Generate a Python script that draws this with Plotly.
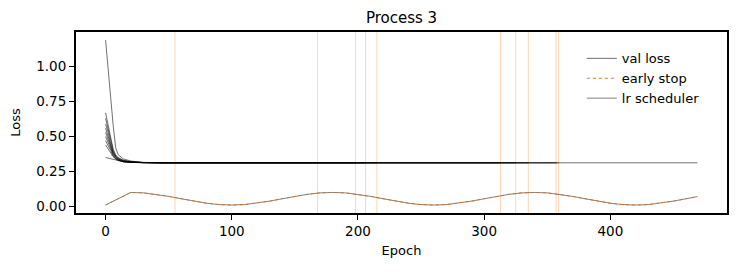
import plotly.graph_objects as go

# ---- data ----
run_epochs = [0, 2, 4, 6, 8, 10, 14, 20, 30, 45]
run_losses = [
    [1.19, 0.98, 0.78, 0.58, 0.42, 0.37, 0.34, 0.325, 0.315, 0.312],
    [0.67, 0.58, 0.48, 0.41, 0.37, 0.35, 0.33, 0.32, 0.314, 0.312],
    [0.63, 0.55, 0.47, 0.40, 0.36, 0.345, 0.33, 0.32, 0.314, 0.312],
    [0.59, 0.53, 0.45, 0.39, 0.36, 0.34, 0.325, 0.318, 0.313, 0.312],
    [0.56, 0.50, 0.43, 0.38, 0.355, 0.34, 0.325, 0.318, 0.313, 0.312],
    [0.53, 0.48, 0.42, 0.375, 0.35, 0.335, 0.322, 0.316, 0.313, 0.312],
    [0.50, 0.46, 0.41, 0.37, 0.345, 0.333, 0.32, 0.315, 0.313, 0.312],
    [0.47, 0.44, 0.40, 0.36, 0.34, 0.33, 0.32, 0.315, 0.313, 0.312],
    [0.44, 0.41, 0.38, 0.355, 0.34, 0.33, 0.32, 0.315, 0.313, 0.312],
    [0.35, 0.345, 0.34, 0.335, 0.33, 0.325, 0.32, 0.316, 0.313, 0.312],
]
run_end_epochs = [469, 359, 357, 335, 325, 313, 215, 206, 198, 168]
early_stops = [55, 168, 198, 206, 215, 313, 325, 335, 357, 359]

lr_epochs = [0, 10, 20, 30, 40, 50, 60, 70, 80, 90, 100, 110, 120, 130, 140, 150,
             160, 170, 180, 190, 200, 210, 220, 230, 240, 250, 260, 270, 280, 290,
             300, 310, 320, 330, 340, 350, 360, 370, 380, 390, 400, 410, 420, 430,
             440, 450, 460, 469]
lr_values = [0.010, 0.055, 0.100, 0.097, 0.087, 0.072, 0.055, 0.038, 0.023, 0.013,
             0.010, 0.013, 0.023, 0.038, 0.055, 0.072, 0.087, 0.097, 0.100, 0.097,
             0.087, 0.072, 0.055, 0.038, 0.023, 0.013, 0.010, 0.013, 0.023, 0.038,
             0.055, 0.072, 0.087, 0.097, 0.100, 0.097, 0.087, 0.072, 0.055, 0.038,
             0.023, 0.013, 0.010, 0.013, 0.023, 0.038, 0.055, 0.070]

x_ticks = [0, 100, 200, 300, 400]
y_ticks = [0.0, 0.25, 0.5, 0.75, 1.0]
y_tick_labels = ["0.00", "0.25", "0.50", "0.75", "1.00"]

fig = go.Figure()

for i, losses in enumerate(run_losses):
    xs = run_epochs + [run_end_epochs[i]]
    ys = losses + [losses[-1]]
    fig.add_trace(go.Scatter(
        x=xs, y=ys, mode="lines",
        line=dict(color="rgba(0,0,0,0.7)", width=0.8),
        name="val loss", showlegend=(i == 0), legendrank=1,
    ))

fig.add_trace(go.Scatter(
    x=lr_epochs, y=lr_values, mode="lines",
    line=dict(color="rgba(0,0,0,0.55)", width=0.9),
    name="lr scheduler", legendrank=3,
))
fig.add_trace(go.Scatter(
    x=lr_epochs, y=lr_values, mode="lines",
    line=dict(color="rgba(222,110,30,0.95)", width=1, dash="dot"),
    name="early stop", legendrank=2,
))

for e in early_stops:
    fig.add_shape(type="line", x0=e, x1=e, y0=0, y1=1, xref="x", yref="paper",
                  line=dict(color="rgba(255,140,50,0.45)", width=0.8), layer="below")

font = "DejaVu Sans, sans-serif"
axis_common = dict(ticks="outside", ticklen=5, tickcolor="#000000", tickwidth=1,
                   showline=True, linecolor="#000000", linewidth=2, mirror=True,
                   showgrid=False, zeroline=False, tickfont=dict(size=13.5),
                   automargin=False)
fig.update_layout(
    width=731, height=264,
    margin=dict(l=68, r=12, t=24, b=59),
    plot_bgcolor="white", paper_bgcolor="white",
    font=dict(family=font, size=13, color="black"),
    title=dict(text="Process 3", x=0.5, xref="paper", xanchor="center",
               y=0.962, yanchor="middle", font=dict(size=15)),
    legend=dict(x=0.777, y=0.937, xanchor="left", yanchor="top",
                bgcolor="rgba(0,0,0,0)", font=dict(size=13), itemwidth=30,
                tracegroupgap=0),
    xaxis=dict(range=[-23.45, 492.45], tickvals=x_ticks,
               title=dict(text="Epoch", standoff=8, font=dict(size=13)), **axis_common),
    yaxis=dict(range=[-0.047, 1.248], tickvals=y_ticks, ticktext=y_tick_labels,
               title=dict(text="Loss", standoff=13, font=dict(size=13)), **axis_common),
)

fig.write_html("out.html")
